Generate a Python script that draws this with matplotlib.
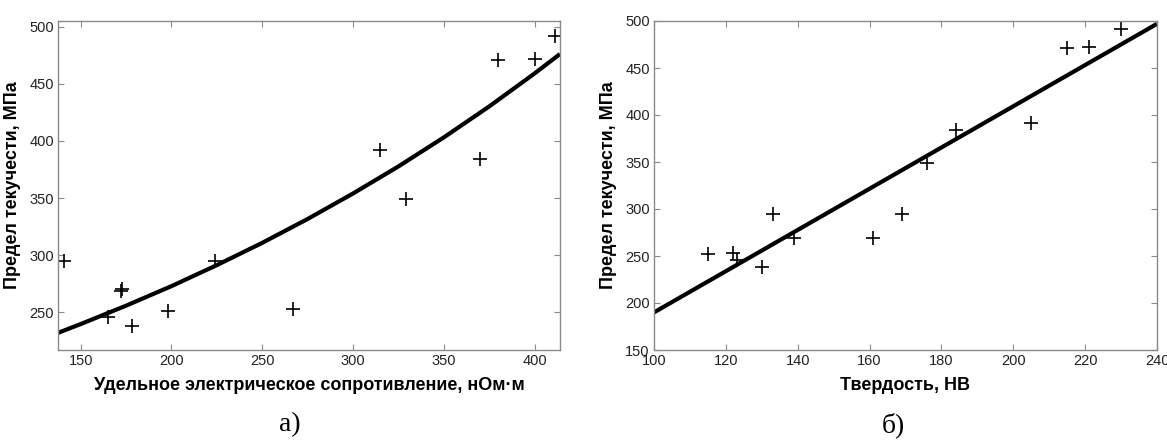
import matplotlib
matplotlib.use("Agg")
import matplotlib.pyplot as plt

# ── Данные ──────────────────────────────────────────────────────────────────
# а) предел текучести vs удельное электрическое сопротивление
rho = [141, 165, 172, 173, 178, 198, 224, 267, 315, 329, 370, 380, 400, 411]
sigma_a = [295, 246, 269, 270, 238, 251, 295, 253, 392, 349, 384, 471, 472, 492]
# аппроксимирующая кривая (точки)
fit_a_x = [137.5, 150, 175, 200, 225, 250, 275, 300, 325, 350, 375, 400, 414]
fit_a_y = [232, 239.7, 255.8, 272.9, 291.3, 310.8, 331.7, 354.0, 377.7, 403.1,
           430.2, 459.1, 476.1]

# б) предел текучести vs твердость HB
hb = [115, 122, 123, 130, 133, 139, 161, 169, 176, 184, 205, 215, 221, 230]
sigma_b = [252, 253, 246, 238, 295, 269, 269, 295, 349, 384, 392, 471, 472, 492]
fit_b_x = [100, 240]
fit_b_y = [190, 497]

xticks_a = [150, 200, 250, 300, 350, 400]
yticks_a = [250, 300, 350, 400, 450, 500]
xticks_b = [100, 120, 140, 160, 180, 200, 220, 240]
yticks_b = [150, 200, 250, 300, 350, 400, 450, 500]

YLABEL = "Предел текучести, МПа"

plt.rcParams["font.family"] = ["Liberation Sans", "DejaVu Sans"]

W, H = 1167, 446
fig = plt.figure(figsize=(W / 100, H / 100), dpi=100)

def px_axes(x0, x1, y0, y1):
    """Оси по пиксельным координатам (x0..x1, y0 сверху .. y1 снизу)."""
    return fig.add_axes([x0 / W, 1 - y1 / H, (x1 - x0) / W, (y1 - y0) / H])

def style(ax, xticks, yticks, xlim, ylim, xlabel):
    ax.set_xlim(*xlim)
    ax.set_ylim(*ylim)
    ax.set_xticks(xticks)
    ax.set_yticks(yticks)
    for s in ax.spines.values():
        s.set_color("#8a8a8a")
        s.set_linewidth(1.0)
    ax.tick_params(direction="in", length=4, width=0.8, color="#8a8a8a",
                   top=True, right=True, labelsize=10.5, pad=3,
                   labelcolor="#222222")
    ax.set_xlabel(xlabel, fontsize=13, fontweight="bold", labelpad=6)
    ax.set_ylabel(YLABEL, fontsize=13, fontweight="bold", labelpad=6)

ax_a = px_axes(58, 560, 21, 350)
ax_a.plot(fit_a_x, fit_a_y, color="black", lw=3.0, solid_capstyle="butt")
ax_a.plot(rho, sigma_a, "+", color="black", ms=10, mew=1.2)
style(ax_a, xticks_a, yticks_a, (137.5, 414), (217, 505),
      "Удельное электрическое сопротивление, нОм·м")

ax_b = px_axes(654, 1157, 21, 350)
ax_b.plot(fit_b_x, fit_b_y, color="black", lw=3.0, solid_capstyle="butt")
ax_b.plot(hb, sigma_b, "+", color="black", ms=10, mew=1.2)
style(ax_b, xticks_b, yticks_b, (100, 240), (150, 500), "Твердость, НВ")

fig.text(290 / W, 1 - 425 / H, "а)", ha="center", va="center", fontsize=20,
         family=["Liberation Serif", "DejaVu Serif"])
fig.text(893 / W, 1 - 425 / H, "б)", ha="center", va="center", fontsize=20,
         family=["Liberation Serif", "DejaVu Serif"])

fig.savefig("out.png", dpi=100)
